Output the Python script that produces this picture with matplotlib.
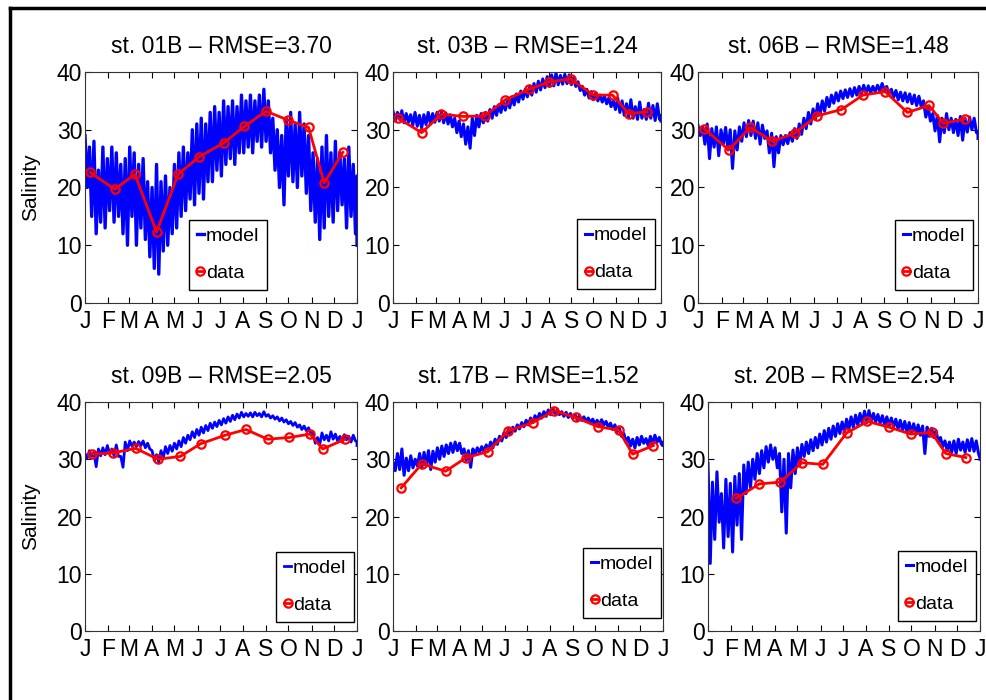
import numpy as np
import matplotlib.pyplot as plt
from matplotlib.lines import Line2D

plt.rcParams['font.family'] = ['Liberation Sans', 'DejaVu Sans']

# month ticks (day of year)
months = ['J', 'F', 'M', 'A', 'M', 'J', 'J', 'A', 'S', 'O', 'N', 'D', 'J']
month_days = [0, 31, 59, 90, 120, 151, 181, 212, 243, 273, 304, 334, 365]

stations = ['01B', '03B', '06B', '09B', '17B', '20B']
rmse = [3.70, 1.24, 1.48, 2.05, 1.52, 2.54]

# model trace read as upper / lower envelope every 6 days
grid_days = list(range(0, 361, 6)) + [365]

model_hi_01B = [29, 27, 28, 23, 27, 25, 27, 26, 24, 25, 27, 26, 24, 25, 21, 20, 24, 21, 22, 20,
                24, 26, 27, 26, 30, 31, 32, 31, 33, 34, 33, 35, 34, 35, 34, 36, 35, 36, 35, 36,
                37, 35, 32, 30, 29, 32, 33, 31, 33, 31, 29, 26, 25, 27, 29, 26, 28, 26, 25, 27,
                24, 22]
model_lo_01B = [20, 15, 12, 14, 13, 16, 14, 15, 12, 10, 15, 10, 13, 11, 8, 6, 5, 9, 10, 12,
                13, 15, 16, 18, 17, 19, 18, 21, 21, 23, 22, 24, 25, 24, 26, 26, 27, 26, 28, 27,
                28, 26, 23, 20, 17, 22, 21, 20, 22, 19, 16, 14, 11, 13, 15, 14, 16, 17, 13, 15,
                12, 10]

model_hi_03B = [33.2, 33.0, 33.3, 32.8, 32.6, 33.0, 32.5, 32.6, 33.0, 32.8, 33.0, 33.2, 32.9, 32.6,
                32.0, 31.5, 31.0, 30.5, 32.0, 32.5, 32.8, 33.0, 33.5, 34.0, 34.3, 34.8, 35.2, 35.7,
                36.2, 36.7, 37.0, 37.5, 38.0, 38.4, 38.8, 39.2, 39.5, 39.8, 39.4, 39.6, 39.5, 39.0,
                38.3, 37.5, 37.0, 36.6, 36.3, 36.0, 35.8, 35.5, 35.0, 35.5, 35.0, 34.5, 35.2, 34.0,
                34.8, 33.5, 34.6, 34.2, 34.5, 32.5]
model_lo_03B = [31.5, 31.8, 31.2, 31.3, 30.8, 30.6, 30.3, 30.9, 31.0, 31.3, 31.5, 31.2, 31.0, 30.5,
                29.5, 28.8, 27.5, 26.8, 29.0, 30.5, 31.2, 31.5, 32.0, 32.5, 33.0, 33.4, 33.8, 34.3,
                34.8, 35.3, 35.7, 36.0, 36.5, 36.9, 37.3, 37.5, 37.6, 37.8, 37.9, 38.0, 37.8, 37.5,
                36.8, 36.0, 35.5, 35.2, 35.0, 34.8, 34.5, 34.0, 33.5, 33.0, 32.5, 32.2, 32.0, 31.8,
                32.0, 31.8, 32.0, 31.6, 31.8, 31.5]

model_hi_06B = [30.8, 30.5, 31.0, 30.2, 30.5, 30.0, 30.4, 30.0, 29.8, 30.5, 31.2, 31.6, 31.5, 31.2,
                30.8, 29.8, 29.4, 28.8, 29.0, 29.0, 29.5, 30.2, 31.0, 32.0, 33.0, 33.6, 34.5, 35.0,
                35.6, 36.0, 36.4, 36.7, 36.9, 37.1, 37.3, 37.5, 37.7, 37.6, 37.5, 37.7, 38.0, 37.5,
                37.0, 36.8, 36.5, 36.4, 36.2, 36.0, 35.8, 35.0, 34.0, 32.8, 32.5, 32.0, 32.8, 32.0,
                31.8, 32.3, 32.0, 32.2, 32.0, 29.5]
model_lo_06B = [29.0, 27.5, 25.0, 27.0, 25.5, 27.5, 26.5, 23.3, 26.5, 28.0, 28.8, 29.0, 28.5, 27.5,
                28.5, 26.0, 23.6, 26.0, 27.4, 27.6, 28.0, 28.5, 29.2, 30.2, 31.0, 31.8, 32.6, 33.2,
                34.0, 34.6, 35.0, 35.4, 35.6, 35.8, 36.0, 36.2, 36.3, 36.4, 36.6, 36.7, 36.8, 36.2,
                35.6, 35.2, 35.0, 34.8, 34.5, 34.2, 34.0, 32.2, 31.5, 29.8, 27.9, 29.5, 30.0, 29.5,
                29.0, 28.2, 29.6, 30.0, 29.5, 28.5]

model_hi_09B = [31.0, 31.5, 31.2, 31.8, 32.0, 32.4, 31.8, 32.5, 30.5, 33.0, 33.2, 33.0, 33.1, 33.2,
                32.8, 31.5, 30.8, 31.5, 32.2, 32.4, 32.8, 33.2, 33.8, 34.2, 34.8, 35.2, 35.6, 35.9,
                36.3, 36.5, 36.8, 37.1, 37.4, 37.7, 37.9, 38.2, 38.0, 38.1, 38.2, 38.0, 38.3, 37.8,
                37.6, 37.4, 37.2, 36.9, 36.6, 36.4, 36.0, 35.8, 35.5, 34.5, 33.8, 34.6, 34.2, 34.8,
                34.4, 34.0, 34.3, 34.0, 34.2, 33.0]
model_lo_09B = [30.2, 30.5, 28.7, 30.6, 30.8, 31.0, 30.6, 30.5, 28.6, 31.5, 32.3, 32.2, 32.4, 32.0,
                31.8, 29.8, 29.5, 30.2, 31.0, 31.4, 31.8, 32.2, 32.8, 33.4, 33.8, 34.2, 34.6, 35.0,
                35.4, 35.7, 36.0, 36.3, 36.6, 36.9, 37.2, 37.4, 37.5, 37.4, 37.6, 37.4, 37.5, 37.2,
                37.0, 36.7, 36.5, 36.2, 35.9, 35.6, 35.2, 35.0, 34.6, 32.8, 32.6, 33.4, 33.2, 33.5,
                33.2, 33.0, 33.4, 33.0, 33.2, 32.4]

model_hi_17B = [29.5, 31.0, 31.8, 30.2, 30.6, 30.0, 31.0, 31.2, 31.5, 31.4, 32.0, 32.3, 32.5, 32.8,
                33.0, 32.8, 31.8, 31.5, 31.8, 32.0, 32.2, 32.5, 33.0, 33.5, 34.0, 34.6, 35.2, 35.6,
                36.0, 36.4, 36.8, 37.2, 37.6, 38.0, 38.3, 38.6, 38.9, 38.6, 38.3, 38.2, 38.0, 37.8,
                37.6, 37.4, 37.2, 37.0, 36.8, 36.9, 36.6, 36.3, 36.0, 35.4, 34.5, 33.8, 33.5, 33.8,
                34.0, 33.6, 34.0, 34.2, 33.8, 33.0]
model_lo_17B = [28.0, 28.2, 27.2, 28.0, 28.5, 28.8, 28.5, 29.0, 28.2, 29.5, 30.0, 30.5, 31.0, 31.2,
                31.5, 31.0, 29.8, 28.6, 30.8, 31.2, 31.3, 31.6, 32.0, 32.6, 33.2, 33.8, 34.4, 34.9,
                35.3, 35.7, 36.0, 36.4, 36.8, 37.2, 37.5, 37.8, 38.0, 37.8, 37.5, 37.3, 37.1, 36.9,
                36.8, 36.6, 36.3, 36.1, 35.9, 36.0, 35.6, 35.2, 34.8, 34.0, 33.0, 32.3, 32.0, 32.5,
                32.8, 32.4, 32.6, 33.0, 32.6, 32.4]

model_hi_20B = [29.3, 26.0, 27.8, 24.0, 26.5, 25.8, 27.0, 27.5, 29.0, 29.5, 30.0, 31.0, 31.5, 32.2,
                32.5, 32.0, 31.0, 30.0, 31.0, 31.6, 32.0, 32.6, 33.0, 33.4, 33.8, 34.4, 35.0, 35.4,
                35.8, 36.2, 36.5, 37.0, 37.4, 37.7, 38.0, 38.4, 38.5, 38.0, 37.8, 37.6, 37.4, 37.2,
                37.0, 36.8, 36.6, 36.4, 36.2, 36.0, 35.8, 35.6, 35.4, 35.0, 33.8, 33.2, 33.0, 33.2,
                33.5, 33.0, 33.4, 33.6, 33.2, 30.2]
model_lo_20B = [11.8, 16.0, 19.0, 14.5, 16.5, 13.8, 18.5, 16.0, 24.0, 25.0, 26.5, 27.5, 28.5, 29.5,
                30.0, 28.5, 20.8, 17.1, 25.0, 27.5, 29.0, 30.5, 31.0, 31.5, 32.0, 32.5, 33.0, 33.5,
                34.0, 34.5, 34.8, 35.2, 35.6, 36.0, 36.2, 36.4, 36.6, 36.5, 36.3, 36.0, 35.8, 35.6,
                35.3, 35.0, 34.8, 34.6, 34.4, 34.2, 31.0, 34.0, 33.8, 33.0, 32.2, 31.5, 31.2, 31.0,
                31.6, 31.2, 31.5, 31.4, 31.0, 30.0]

# observations
data_days_01B = [7, 40, 67, 96, 125, 153, 186, 214, 243, 272, 300, 321, 346]
data_vals_01B = [22.6, 19.7, 22.3, 12.3, 22.3, 25.3, 27.7, 30.6, 33.2, 31.7, 30.4, 20.8, 26.1]
data_days_03B = [7, 39, 66, 96, 125, 153, 185, 213, 242, 273, 299, 321, 346]
data_vals_03B = [32.0, 29.5, 32.7, 32.3, 32.4, 35.2, 37.0, 38.3, 38.8, 36.0, 36.0, 32.8, 33.1]
data_days_06B = [8, 40, 68, 97, 126, 155, 187, 215, 244, 273, 301, 320, 348]
data_vals_06B = [30.2, 26.5, 30.4, 28.0, 29.4, 32.4, 33.5, 36.0, 36.6, 33.0, 34.2, 31.1, 31.9]
data_days_09B = [9, 37, 68, 98, 128, 155, 188, 216, 245, 274, 302, 319, 349]
data_vals_09B = [30.9, 31.1, 31.9, 30.0, 30.5, 32.7, 34.2, 35.2, 33.5, 33.8, 34.4, 31.8, 33.5]
data_days_17B = [11, 39, 71, 99, 128, 156, 189, 218, 247, 277, 305, 324, 352]
data_vals_17B = [25.0, 29.2, 27.9, 30.3, 31.3, 35.0, 36.4, 38.5, 37.3, 35.7, 35.1, 30.9, 32.4]
data_days_20B = [38, 69, 97, 126, 154, 186, 214, 243, 272, 300, 319, 346]
data_vals_20B = [23.2, 25.7, 26.0, 29.4, 29.1, 34.6, 36.6, 35.6, 34.4, 34.7, 31.0, 30.3]

model_hi = [model_hi_01B, model_hi_03B, model_hi_06B, model_hi_09B, model_hi_17B, model_hi_20B]
model_lo = [model_lo_01B, model_lo_03B, model_lo_06B, model_lo_09B, model_lo_17B, model_lo_20B]
data_days = [data_days_01B, data_days_03B, data_days_06B, data_days_09B, data_days_17B, data_days_20B]
data_vals = [data_vals_01B, data_vals_03B, data_vals_06B, data_vals_09B, data_vals_17B, data_vals_20B]

# axes boxes in pixels (left, top, right, bottom) of a 987x700 canvas
W, H = 987, 700
boxes = [(85, 72, 357, 303), (393, 72, 661, 303), (698, 72, 978, 303),
         (85, 402, 357, 631), (393, 402, 663, 631), (708, 402, 980, 631)]
legend_anchor = [(0.669, 0.056), (0.978, 0.06), (0.982, 0.056),
                 (0.989, 0.039), (0.993, 0.057), (0.985, 0.044)]
model_lw = [2.4, 2.2, 2.2, 2.0, 2.2, 2.2]

fig = plt.figure(figsize=(W / 100, H / 100), dpi=100)

gd = np.array(grid_days)
for i in range(6):
    l, t, r, b = boxes[i]
    ax = fig.add_axes([l / W, 1 - b / H, (r - l) / W, (b - t) / H])

    # zig-zag between upper and lower envelope to mimic the noisy model
    x = np.empty(2 * len(gd))
    y = np.empty(2 * len(gd))
    x[0::2] = gd
    x[1::2] = np.minimum(gd + 3, 365)
    y[0::2] = model_hi[i]
    y[1::2] = model_lo[i]
    ax.plot(x, y, color='b', lw=model_lw[i], label='model')
    ax.plot(data_days[i], data_vals[i], color='r', lw=2, marker='o', ms=6,
            mfc='none', mew=1.6, label='data')

    ax.set_xlim(0, 365)
    ax.set_ylim(0, 40)
    ax.set_xticks(month_days)
    ax.set_xticklabels(months)
    ax.set_yticks([0, 10, 20, 30, 40])
    ax.tick_params(direction='in', top=True, right=True, length=4, width=0.8,
                   labelsize=16.5)
    ax.tick_params(axis='x', pad=5)
    ax.tick_params(axis='y', pad=2)
    for s in ax.spines.values():
        s.set_color('#333333')
    ax.set_title(f'st. {stations[i]} \u2013 RMSE={rmse[i]:.2f}', fontsize=16.5, pad=14)

    if i % 3 == 0:
        ax.set_ylabel('Salinity', fontsize=15)
        ax.yaxis.set_label_coords(-0.165, 0.5)

    leg = ax.legend(loc='lower right', bbox_to_anchor=legend_anchor[i], borderaxespad=0,
                    handlelength=0.35, handletextpad=0.1, labelspacing=1.0, borderpad=0.4,
                    fancybox=False, edgecolor='black', framealpha=1, fontsize=14)
    leg.get_frame().set_linewidth(1)

# outer frame of the original figure
fig.add_artist(Line2D([10 / W, 10 / W], [0, 1 - 8 / H], transform=fig.transFigure,
                      color='k', lw=2.5))
fig.add_artist(Line2D([10 / W, 1], [1 - 8 / H, 1 - 8 / H], transform=fig.transFigure,
                      color='k', lw=2.5))

fig.savefig('out.png', dpi=100)
